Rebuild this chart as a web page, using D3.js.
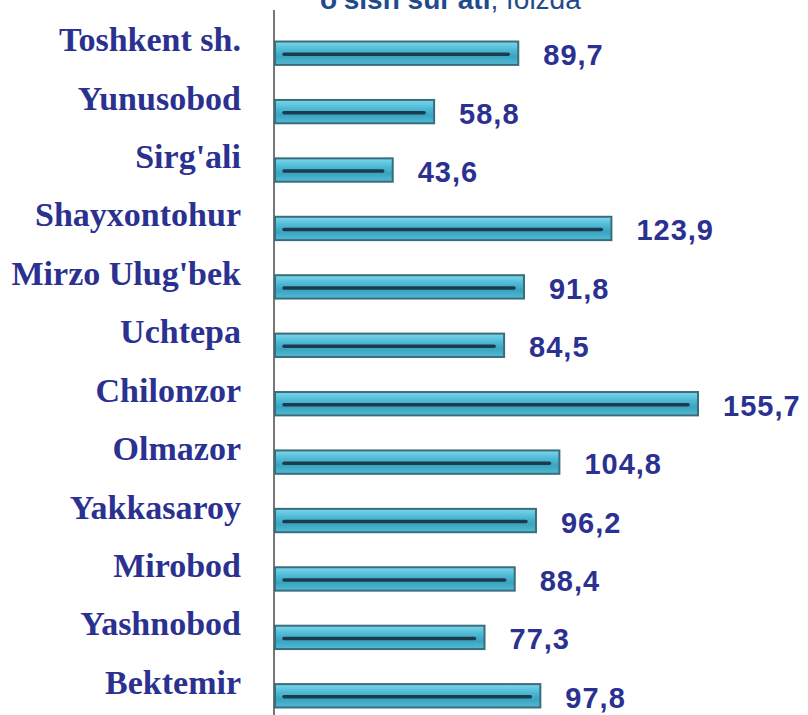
<!DOCTYPE html>
<html>
<head>
<meta charset="utf-8">
<script src="https://cdn.jsdelivr.net/npm/d3@7"></script>
<style>
  html, body { margin: 0; padding: 0; background: #fff; }
  svg { display: block; }
</style>
</head>
<body>
<svg id="chart"></svg>
<script>
const districts = ["Toshkent sh.", "Yunusobod", "Sirg'ali", "Shayxontohur", "Mirzo Ulug'bek", "Uchtepa",
  "Chilonzor", "Olmazor", "Yakkasaroy", "Mirobod", "Yashnobod", "Bektemir"];
const growth = [89.7, 58.8, 43.6, 123.9, 91.8, 84.5, 155.7, 104.8, 96.2, 88.4, 77.3, 97.8];
const titleBold = "o'sish sur'ati";
const titleRest = ", foizda";

const width = 808, height = 715;
const axisX = 274;

const svg = d3.select("#chart")
  .attr("width", width)
  .attr("height", height);

// bar gradient
const defs = svg.append("defs");
const grad = defs.append("linearGradient")
  .attr("id", "barGrad")
  .attr("x1", 0).attr("y1", 0).attr("x2", 0).attr("y2", 1);
grad.append("stop").attr("offset", "0%").attr("stop-color", "#7fd6ea");
grad.append("stop").attr("offset", "35%").attr("stop-color", "#4dbbd6");
grad.append("stop").attr("offset", "65%").attr("stop-color", "#3aa3bf");
grad.append("stop").attr("offset", "100%").attr("stop-color", "#52bcd6");

const x = d3.scaleLinear()
  .domain([0, 155.7])
  .range([axisX, 698]);

const y = d3.scaleBand()
  .domain(districts)
  .range([24, 725])
  .paddingInner(0.6)
  .paddingOuter(0.3);

const rows = districts.map((d, i) => ({ name: d, value: growth[i] }));

// title (clipped at the top like the original)
const title = svg.append("text")
  .attr("x", 320)
  .attr("y", 9)
  .style("font-family", "Liberation Sans, Arial, sans-serif")
  .style("font-size", "28px")
  .attr("fill", "#1f4a8c");
title.append("tspan").style("font-weight", "bold").text(titleBold);
title.append("tspan").text(titleRest);

// axis line
svg.append("line")
  .attr("x1", axisX).attr("x2", axisX)
  .attr("y1", 10).attr("y2", height)
  .attr("stroke", "#777")
  .attr("stroke-width", 2);

const g = svg.selectAll(".row")
  .data(rows)
  .enter()
  .append("g")
  .attr("class", "row");

g.append("rect")
  .attr("x", x(0) + 1)
  .attr("y", d => y(d.name))
  .attr("width", d => x(d.value) - x(0) - 1)
  .attr("height", y.bandwidth())
  .attr("fill", "url(#barGrad)")
  .attr("stroke", "#3a6d7c")
  .attr("stroke-width", 2);

// dark inner groove
g.append("line")
  .attr("x1", x(0) + 10)
  .attr("x2", d => x(d.value) - 10)
  .attr("y1", d => y(d.name) + y.bandwidth() / 2 + 1)
  .attr("y2", d => y(d.name) + y.bandwidth() / 2 + 1)
  .attr("stroke", "#1c3c4e")
  .attr("stroke-width", 3.5)
  .attr("stroke-linecap", "round");

// category labels
g.append("text")
  .attr("x", 241)
  .attr("y", d => y(d.name) + y.bandwidth() / 2 - 2)
  .attr("text-anchor", "end")
  .style("font-family", "Liberation Serif, Times New Roman, serif")
  .style("font-weight", "bold")
  .style("font-size", "34px")
  .attr("fill", "#2b3190")
  .text(d => d.name);

// value labels
g.append("text")
  .attr("x", d => x(d.value) + 25)
  .attr("y", d => y(d.name) + y.bandwidth() / 2 + 12)
  .style("font-family", "Liberation Sans, Arial, sans-serif")
  .style("font-weight", "bold")
  .style("font-size", "29px")
  .style("letter-spacing", "1px")
  .attr("fill", "#2b3190")
  .text(d => d3.format(".1f")(d.value).replace(".", ","));
</script>
</body>
</html>
